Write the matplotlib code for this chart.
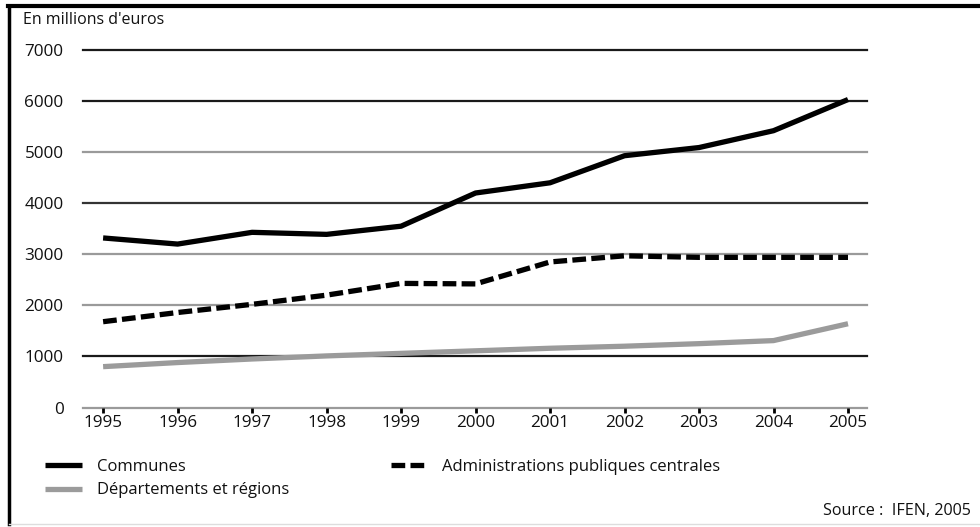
import matplotlib
matplotlib.use("Agg")
import matplotlib.pyplot as plt
from matplotlib.lines import Line2D

plt.rcParams['font.family'] = ['Open Sans', 'DejaVu Sans']

years = [1995, 1996, 1997, 1998, 1999, 2000, 2001, 2002, 2003, 2004, 2005]
communes = [3320, 3200, 3430, 3390, 3550, 4200, 4400, 4930, 5090, 5420, 6030]
administrations = [1680, 1860, 2020, 2200, 2430, 2420, 2850, 2970, 2940, 2940, 2940]
departements = [800, 880, 950, 1010, 1060, 1110, 1160, 1200, 1250, 1310, 1640]

y_ticks = [0, 1000, 2000, 3000, 4000, 5000, 6000, 7000]
grid_colors = ['#9a9a9a', '#1a1a1a', '#9a9a9a', '#9a9a9a', '#333333', '#9a9a9a', '#1a1a1a', '#1a1a1a']

labels = ['Communes', 'Départements et régions', 'Administrations publiques centrales']

fig = plt.figure(figsize=(9.8, 5.27), dpi=100)
ax = fig.add_axes([83 / 980, 1 - 407.5 / 527, 784 / 980, 357.5 / 527])

ax.set_xlim(1994.73, 2005.255)
ax.set_ylim(0, 7000)

# horizontal rules, alternating dark and grey
for val, col in zip(y_ticks, grid_colors):
    ax.axhline(val, color=col, lw=1.6, zorder=1, clip_on=False)

lw = 3.8
l_dep, = ax.plot(years, departements, color='#9b9b9b', lw=lw, solid_capstyle='butt', zorder=3)
l_com, = ax.plot(years, communes, color='black', lw=lw, solid_capstyle='butt',
                 solid_joinstyle='round', zorder=4)
l_adm, = ax.plot(years, administrations, color='black', lw=lw, dashes=(2.6, 1.0),
                 dash_capstyle='butt', zorder=4)

for s in ax.spines.values():
    s.set_visible(False)

ax.set_yticks(y_ticks)
ax.set_yticklabels([str(v) for v in y_ticks])
ax.tick_params(axis='y', length=0, pad=14, labelsize=12.3, labelcolor='#111111')
ax.set_xticks(years)
ax.set_xticklabels([str(y) for y in years])
ax.tick_params(axis='x', length=3.5, width=2, color='black', direction='out', pad=1.8,
               labelsize=12.3, labelcolor='#111111')

fig.text(23 / 980, 1 - 20 / 527, "En millions d'euros", fontsize=11.5, color='#111111',
         ha='left', va='center')

leg = fig.legend([l_com, l_dep, l_adm], labels, ncol=2, loc='upper left',
                 bbox_to_anchor=(45 / 980, 1 - 459 / 527), frameon=False, fontsize=12,
                 handlelength=2.2, handletextpad=0.9, columnspacing=6.1,
                 labelspacing=0.44, borderaxespad=0, borderpad=0)
for t in leg.get_texts():
    t.set_color('#111111')

fig.text(971 / 980, 1 - 511 / 527, "Source :  IFEN, 2005", fontsize=11.6, color='#111111',
         ha='right', va='center')

# page frame: heavy top rule and left rule
fig.add_artist(Line2D([8 / 980, 1.0], [1 - 5.5 / 527, 1 - 5.5 / 527], color='black', lw=3,
                      transform=fig.transFigure))
fig.add_artist(Line2D([9 / 980, 9 / 980], [1 - 5.5 / 527, 1 - 524 / 527], color='black', lw=2.5,
                      transform=fig.transFigure))
fig.add_artist(Line2D([9 / 980, 1.0], [1 - 523.5 / 527, 1 - 523.5 / 527], color='#dddddd', lw=1,
                      transform=fig.transFigure))

fig.savefig('out.png', dpi=100)
